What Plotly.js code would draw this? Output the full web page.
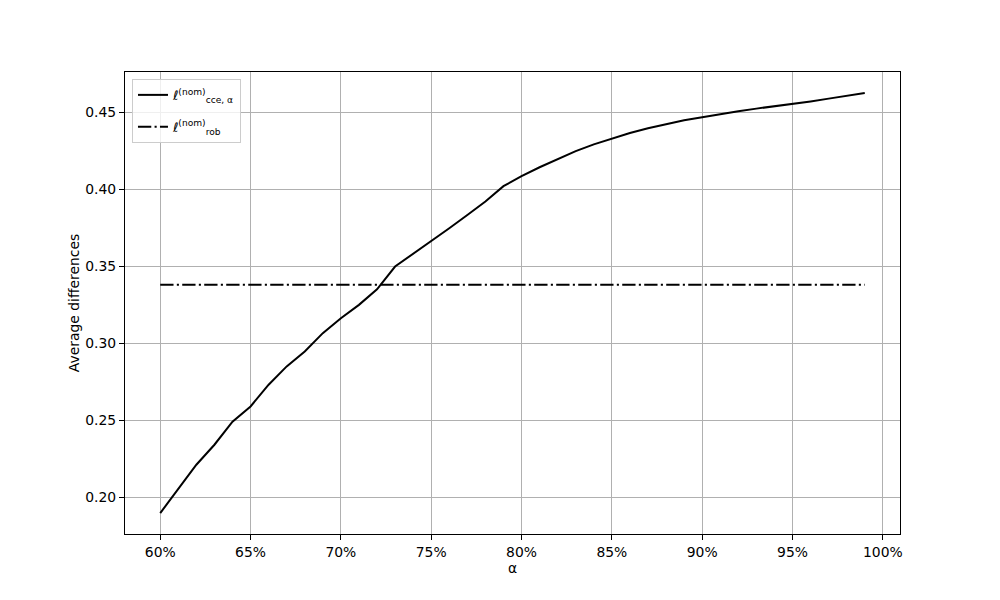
<!DOCTYPE html>
<html>
<head>
<meta charset="utf-8">
<script src="https://cdn.plot.ly/plotly-3.0.1.min.js"></script>
<style>
  html, body { margin: 0; padding: 0; background: #fff; }
  #chart { width: 1000px; height: 600px; }
</style>
</head>
<body>
<div id="chart"></div>
<script>
// alpha levels (percent)
const alphaPct = [60, 61, 62, 63, 64, 65, 66, 67, 68, 69,
                  70, 71, 72, 73, 74, 75, 76, 77, 78, 79,
                  80, 81, 82, 83, 84, 85, 86, 87, 88, 89,
                  90, 91, 92, 93, 94, 95, 96, 97, 98, 99];

// average differences, CCE loss per alpha
const cceValues = [0.1896, 0.2057, 0.2210, 0.2340, 0.2490, 0.2589, 0.2730, 0.2849, 0.2946, 0.3065,
                   0.3162, 0.3249, 0.3350, 0.3498, 0.3580, 0.3665, 0.3747, 0.3833, 0.3920, 0.4020,
                   0.4085, 0.4143, 0.4197, 0.4248, 0.4292, 0.4331, 0.4366, 0.4396, 0.4424, 0.4448,
                   0.4468, 0.4489, 0.4507, 0.4524, 0.4539, 0.4556, 0.4571, 0.4589, 0.4606, 0.4626];

// robust loss (constant)
const robValue = 0.3379;
const robValues = alphaPct.map(() => robValue);

const xTicks = [60, 65, 70, 75, 80, 85, 90, 95, 100];
const yTicks = [0.20, 0.25, 0.30, 0.35, 0.40, 0.45];

const FONT = "DejaVu Sans, sans-serif";

const traces = [
  {
    x: alphaPct,
    y: cceValues,
    mode: "lines",
    name: "ℓ<sup>(nom)</sup><sub>cce, α</sub>",
    legendgroup: "cce",
    line: { color: "black", width: 2 }
  },
  {
    x: alphaPct,
    y: robValues,
    mode: "lines",
    name: "ℓ<sup>(nom)</sup><sub>rob</sub>",
    legendgroup: "rob",
    line: { color: "black", width: 2, dash: "13.3px,3.3px,2.1px,3.3px" }
  }
];

const axisCommon = {
  showline: true,
  mirror: true,
  linecolor: "black",
  linewidth: 1,
  ticks: "outside",
  ticklen: 5,
  tickwidth: 1,
  tickcolor: "black",
  showgrid: true,
  gridcolor: "#b0b0b0",
  gridwidth: 1.1,
  zeroline: false,
  tickfont: { family: FONT, size: 13.9, color: "black" }
};

const layout = {
  width: 1000,
  height: 600,
  paper_bgcolor: "white",
  plot_bgcolor: "white",
  margin: { l: 125, r: 100, t: 72, b: 66 },
  font: { family: FONT, color: "black" },
  showlegend: true,
  xaxis: Object.assign({}, axisCommon, {
    range: [58.05, 100.95],
    tickvals: xTicks,
    ticktext: xTicks.map(v => v + "%"),
    title: { text: "α", font: { family: FONT, size: 13.9 }, standoff: 3 }
  }),
  yaxis: Object.assign({}, axisCommon, {
    range: [0.1760, 0.4762],
    tickvals: yTicks,
    ticktext: yTicks.map(v => v.toFixed(2)),
    title: { text: "Average differences", font: { family: FONT, size: 13.9 }, standoff: 2 }
  }),
  legend: {
    x: 0.009,
    y: 0.985,
    xanchor: "left",
    yanchor: "top",
    bgcolor: "rgba(255,255,255,0.8)",
    bordercolor: "#cccccc",
    borderwidth: 1,
    font: { family: FONT, size: 13, color: "black" },
    tracegroupgap: 12
  }
};

Plotly.newPlot("chart", traces, layout, { staticPlot: true });
</script>
</body>
</html>
